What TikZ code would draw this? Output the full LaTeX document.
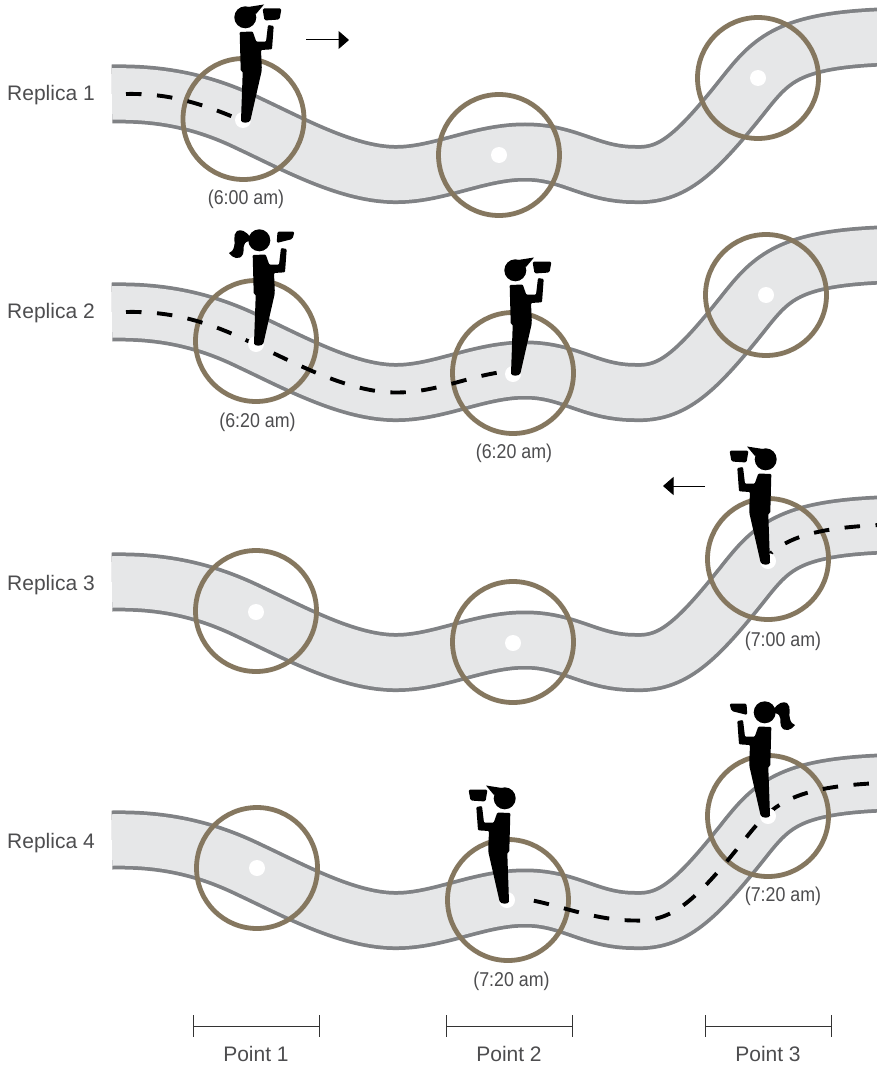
\documentclass[tikz,border=0pt]{standalone}
\usepackage{fontspec}
\setmainfont{Liberation Sans}
\usetikzlibrary{arrows.meta}
\definecolor{roadedge}{HTML}{808285}
\definecolor{roadfill}{HTML}{E6E7E8}
\definecolor{ringcol}{HTML}{85775F}
\definecolor{labelcol}{HTML}{4D4D4F}
\newcommand{\roadline}{(112,94) .. controls (165,93) and (207,103) .. (250,124)
  .. controls (295,145) and (350,175.5) .. (398,174.5)
  .. controls (440,174) and (480,152) .. (525,152)
  .. controls (570,152) and (590,174.5) .. (635,174.5)
  .. controls (672,176) and (695,156) .. (745,93)
  .. controls (772,59) and (790,41) .. (880,37)}
\newcommand{\roadband}{%
  \draw[roadedge,line width=59pt] \roadline;
  \draw[roadfill,line width=51.5pt] \roadline;}
\newcommand{\personbodyshape}{%
  \fill[black] (-3.3,-87) [rounded corners=1pt] -- (-3.3,-88) -- (9.7,-88.5) -- (13.3,-78.3) -- (23,-78.3) -- (25,-95) -- (30.7,-94)
      -- (29,-70.7) -- (18,-70) -- (18.8,-52) -- (18.5,-48.3) [sharp corners] -- (7.5,0) .. controls (6.5,3.5) and (-1.7,3.5) .. (-2,0.5)
      -- (-0.3,-47.5) -- (-2.3,-50) -- cycle;}
\tikzset{
  x=1pt,y=-1pt,
  ringn/.style={circle,draw=ringcol,line width=4.8pt,minimum size=121pt,inner sep=0pt},
  dotn/.style={circle,fill=white,minimum size=16pt,inner sep=0pt},
  dashline/.style={black,line width=3.9pt,dash pattern=on 15.5pt off 15.5pt},
  replab/.style={text=labelcol,font=\fontsize{21}{24}\selectfont,inner sep=0pt},
  timelab/.style={text=labelcol,font=\fontsize{20}{24}\selectfont,inner sep=0pt},
  dirarrow/.style={black,line width=1pt,-{Triangle[length=10.5pt,width=18pt]}},
  bracket/.style={draw=black!80,line width=1pt},
  personm/.pic={
    \personbodyshape
    \fill[black] (2.3,-102.7) circle (11);
    \fill[black] (5,-113) -- (21,-115.5) -- (13,-106) -- cycle;
    \fill[black,rounded corners=1.5pt] (19.5,-111.5) -- (38.5,-111.5) -- (36.5,-100.5) -- (21.5,-99.5) -- cycle;
  },
  personf/.pic={
    \personbodyshape
    \fill[black] (3.3,-102.7) circle (11);
    \fill[black] (-6,-106) .. controls (-10,-112) and (-15,-114) .. (-19,-112)
      .. controls (-24,-108) and (-20,-100) .. (-22,-96)
      .. controls (-23,-92) and (-25,-91) .. (-27,-90)
      .. controls (-24,-85) and (-16,-82) .. (-13,-89)
      .. controls (-11,-94) and (-15,-100) .. (-7,-102) -- cycle;
    \fill[black,rounded corners=1.5pt] (21.5,-111.5) -- (38.5,-111.5) -- (36.5,-104) -- (20.7,-100) -- cycle;
  }
}
\newcommand{\timetext}[1]{\scalebox{0.89}[1]{#1}}
\begin{document}
\begin{tikzpicture}
\clip (0,0) rectangle (877,1065);
\fill[white] (0,0) rectangle (877,1065);

% roads
\begin{scope}\roadband\end{scope}
\begin{scope}[shift={(0,218)}]\roadband\end{scope}
\begin{scope}[shift={(0,488)}]\roadband\end{scope}
\begin{scope}[shift={(0,746)}]\roadband\end{scope}

% rings
\foreach \n/\x/\y in {a/243.5/119,b/499/155,c/758/78,d/256/341,e/513/373,f/766/295,g/256/611,h/513/642,i/768/559,j/257/868,k/508/900,l/768/816}{
  \node[ringn] (ring\n) at (\x,\y) {};
}

% dashed walks
\draw[dashline] (126,94) .. controls (170,93) and (203,104) .. (243,121);
\begin{scope}[shift={(0,218)}]
\draw[dashline] (126,94) .. controls (170,93) and (207,103) .. (250,124)
  .. controls (295,145) and (350,175.5) .. (398,174.5)
  .. controls (440,174) and (475,155) .. (513,153);
\end{scope}
\begin{scope}[shift={(0,488)}]
\draw[black,line width=3.9pt,dash pattern=on 15.5pt off 15.5pt,dash phase=11pt] (880,37) .. controls (812.5,40) and (785.5,50.4) .. (764.9,70.4);
\end{scope}
\begin{scope}[shift={(0,746)}]
\draw[black,line width=3.9pt,dash pattern=on 15.5pt off 15.5pt,dash phase=16pt] (519,152.5) .. controls (550,155) and (590,174.5) .. (635,174.5)
  .. controls (672,176) and (695,156) .. (745,93)
  .. controls (772,59) and (790,41) .. (880,37);
\end{scope}

% dots
\foreach \n/\x/\y in {a/243/120,b/499/155,c/758/78,d/256/344,e/513/374,f/766/295,g/256/612,h/513/643,i/768/561,j/257/868,k/507/900,l/768/816}{
  \node[dotn] (dot\n) at (\x,\y) {};
}

% people
\pic at (243,120) {personm};
\pic at (256,343) {personf};
\pic at (513,373) {personm};
\pic[xscale=-1] at (768,562) {personm};
\pic[xscale=-1] at (768,815) {personf};
\pic[xscale=-1] at (507,901) {personm};

% direction arrows
\coordinate (ar1s) at (306,40); \coordinate (ar1e) at (349,40);
\draw[dirarrow] (ar1s) -- (ar1e);
\coordinate (ar3s) at (705,486); \coordinate (ar3e) at (663,486);
\draw[dirarrow] (ar3s) -- (ar3e);

% replica labels
\node[replab,anchor=west] (rep1) at (7,95) {Replica 1};
\node[replab,anchor=west] (rep2) at (7,313) {Replica 2};
\node[replab,anchor=west] (rep3) at (7,585) {Replica 3};
\node[replab,anchor=west] (rep4) at (7,843) {Replica 4};

% time labels
\node[timelab] (t1) at (246,199.5) {\timetext{(6:00 am)}};
\node[timelab] (t2) at (257.5,422.5) {\timetext{(6:20 am)}};
\node[timelab] (t3) at (514,453.5) {\timetext{(6:20 am)}};
\node[timelab] (t4) at (783,641.5) {\timetext{(7:00 am)}};
\node[timelab] (t5) at (783,896.5) {\timetext{(7:20 am)}};
\node[timelab] (t6) at (511.5,981.5) {\timetext{(7:20 am)}};

% point brackets
\foreach \n/\a/\b in {1/193/319.5,2/446/572,3/705/831}{
  \coordinate (pl\n) at (\a,1026); \coordinate (pr\n) at (\b,1026);
  \draw[bracket] (pl\n) -- (pr\n);
  \draw[bracket] (\a,1015) -- (\a,1037);
  \draw[bracket] (\b,1015) -- (\b,1037);
}
\node[replab] (p1) at (256,1054) {Point 1};
\node[replab] (p2) at (509,1054) {Point 2};
\node[replab] (p3) at (768,1054) {Point 3};
\end{tikzpicture}
\end{document}
